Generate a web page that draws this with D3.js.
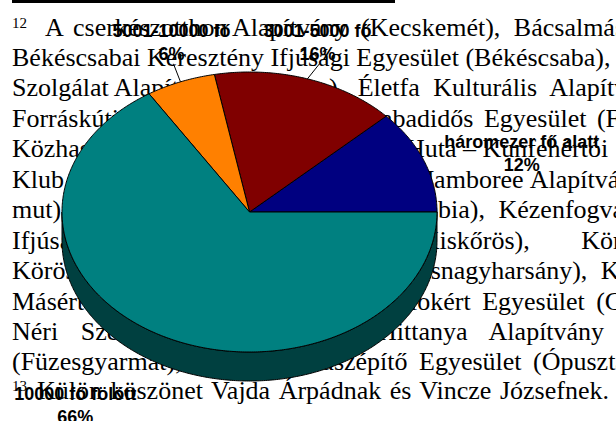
<!DOCTYPE html>
<html>
<head>
<meta charset="utf-8">
<script src="https://cdn.jsdelivr.net/npm/d3@7"></script>
<style>
  html, body { margin: 0; padding: 0; background: #fff; }
  #canvas { width: 616px; height: 421px; overflow: hidden; }
</style>
</head>
<body>
<div id="canvas"></div>
<script>
// Chart data
const categories = ['háromezer fő alatt', '3001-5000 fő', '5001-10000 fő', '10000 fő fölött'];
const shares = [12, 16, 6, 66];
const colors = ['#000080', '#800000', '#ff8000', '#008080'];
const sideColors = ['#000040', '#400000', '#804000', '#004040'];

// Size of the page
const width = 616;
const height = 421;

// Pie geometry (tilted 3D pie)
const cx = 249.5, cy = 212, rx = 187.5, ry = 140, depth = 29;

// label offsets from the slice edge point (dx, dy of the name line)
const labelShift = [[98, -12], [10, -42], [-9, -45], [-84, 36]];
const leaderOn = [false, true, true, false];

// footnote text behind the chart: [x, text, word spacing]
const bodyRows = [
  { y: 36, segs: [[45, 'A', 0], [73, 'cserkészotthon', 0], [232, 'Alapítvány (Kecskemét), Bácsalmási', 7]] },
  { y: 66, segs: [[12, 'Békéscsabai Keresztény Ifjúsági Egyesület (Békéscsaba),', 0]] },
  { y: 96, segs: [[12, 'Szolgálat Alapítvány', 0], [329, '), Életfa Kulturális Alapítvány', 7]] },
  { y: 127, segs: [[12, 'Forráskúti Ifjúsági', 0], [355, 'Szabadidős Egyesület (Forráskút)', 4]] },
  { y: 157, segs: [[12, 'Közhasznú Egyesület', 0], [406, 'Huta – Kunfehértói', 0]] },
  { y: 188, segs: [[12, 'Klub (Kiskunhalas)', 0], [424, 'Jamboree Alapítvány', 1]] },
  { y: 218, segs: [[12, 'mut), Ifjúsági', 0], [389, 'Kelebia), Kézenfogva', 7]] },
  { y: 249, segs: [[12, 'Ifjúsági Egyesület', 0], [412, '(Kiskőrös), Körösi', 45]] },
  { y: 279, segs: [[12, 'Körösi Ifjúsági', 0], [396, '(Kisnagyharsány), Kiskőrösi', 7]] },
  { y: 310, segs: [[12, 'Másért Egyesület', 0], [358, 'Fiatalokért Egyesület (Gödöllő)', 5]] },
  { y: 340, segs: [[12, 'Néri Szent Fülöp', 16], [378, 'Hittanya Alapítvány (Füzesgyarmat)', 16]] },
  { y: 370, segs: [[12, '(Füzesgyarmat), Ópusztaszeri', 0], [266, 'Pusztaszépítő Egyesület (Ópusztaszer)', 5]] },
  { y: 399, segs: [[37, 'Külön köszönet Vajda Árpádnak és Vincze Józsefnek.', 2]] }
];
const footMarks = [{ x: 12, y: 28, t: '12' }, { x: 12, y: 391, t: '13' }];

const svg = d3.select('#canvas')
  .append('svg')
  .attr('width', width)
  .attr('height', height);

svg.append('rect')
  .attr('width', width)
  .attr('height', height)
  .attr('fill', '#fff');

// footnote separator
svg.append('rect')
  .attr('x', 12).attr('y', 0)
  .attr('width', 383).attr('height', 3)
  .attr('fill', '#000');

const body = svg.append('g')
  .style('font-family', '"Liberation Serif", "Times New Roman", serif')
  .style('font-size', '26px')
  .attr('fill', '#000');

bodyRows.forEach(row => {
  row.segs.forEach(s => {
    body.append('text')
      .attr('x', s[0])
      .attr('y', row.y)
      .attr('word-spacing', s[2])
      .text(s[1]);
  });
});

body.selectAll('text.mark')
  .data(footMarks)
  .enter()
  .append('text')
  .attr('class', 'mark')
  .attr('x', d => d.x)
  .attr('y', d => d.y)
  .style('font-size', '15px')
  .text(d => d.t);

// pie layout, angles run counter clockwise from 3 o'clock
const pie = d3.pie().sort(null).value(d => d);
const slices = pie(shares);

const px = a => cx + rx * Math.cos(a);
const py = a => cy - ry * Math.sin(a);

function topPath(a0, a1) {
  const p = d3.path();
  p.moveTo(cx, cy);
  const n = Math.max(2, Math.ceil((a1 - a0) / 0.01));
  for (let i = 0; i <= n; i++) {
    const a = a0 + (a1 - a0) * i / n;
    p.lineTo(px(a), py(a));
  }
  p.closePath();
  return p.toString();
}

function sidePath(a0, a1) {
  const p = d3.path();
  const n = Math.max(2, Math.ceil((a1 - a0) / 0.01));
  for (let i = 0; i <= n; i++) {
    const a = a0 + (a1 - a0) * i / n;
    if (i === 0) p.moveTo(px(a), py(a));
    else p.lineTo(px(a), py(a));
  }
  for (let i = n; i >= 0; i--) {
    const a = a0 + (a1 - a0) * i / n;
    p.lineTo(px(a), py(a) + depth);
  }
  p.closePath();
  return p.toString();
}

const chart = svg.append('g');

// side walls, only the front half is visible
slices.forEach((s, i) => {
  const a0 = Math.max(s.startAngle, Math.PI);
  const a1 = Math.min(s.endAngle, 2 * Math.PI);
  if (a1 > a0) {
    chart.append('path')
      .attr('d', sidePath(a0, a1))
      .attr('fill', sideColors[i])
      .attr('stroke', '#000')
      .attr('stroke-width', 1)
      .attr('stroke-linejoin', 'round');
  }
});

chart.selectAll('path.slice')
  .data(slices)
  .enter()
  .append('path')
  .attr('class', 'slice')
  .attr('d', d => topPath(d.startAngle, d.endAngle))
  .attr('fill', (d, i) => colors[i])
  .attr('stroke', '#000')
  .attr('stroke-width', 1)
  .attr('stroke-linejoin', 'round');

// data labels
const labels = svg.append('g')
  .style('font-family', '"Liberation Sans", Arial, sans-serif')
  .style('font-size', '18px')
  .style('font-weight', 'bold')
  .attr('fill', '#000')
  .attr('text-anchor', 'middle');

slices.forEach((s, i) => {
  const mid = (s.startAngle + s.endAngle) / 2;
  let ex = px(mid), ey = py(mid);
  if (Math.sin(mid) < 0) ey += depth;
  const lx = ex + labelShift[i][0];
  const ly = ey + labelShift[i][1];
  if (leaderOn[i]) {
    svg.append('line')
      .attr('x1', lx + 2).attr('y1', ly + 27)
      .attr('x2', ex).attr('y2', ey)
      .attr('stroke', '#000')
      .attr('stroke-width', 1);
  }
  labels.append('text')
    .attr('x', lx).attr('y', ly)
    .text(categories[i]);
  labels.append('text')
    .attr('x', lx).attr('y', ly + 23)
    .text(shares[i] + '%');
});
</script>
</body>
</html>
